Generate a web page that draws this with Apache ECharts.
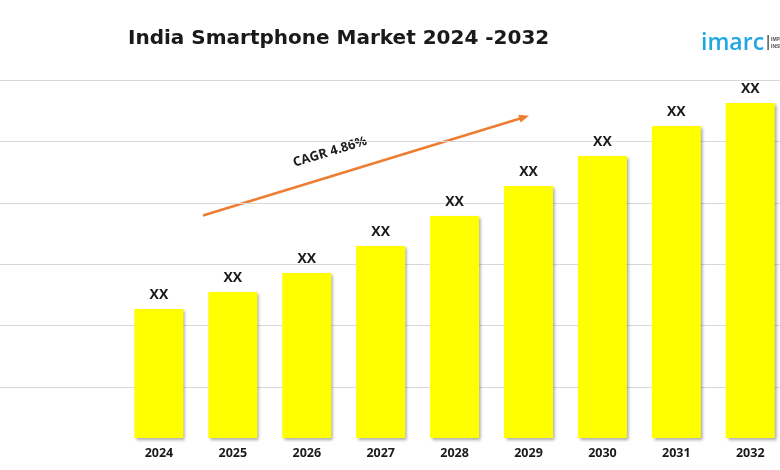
<!DOCTYPE html>
<html>
<head>
<meta charset="utf-8">
<script src="https://cdn.jsdelivr.net/npm/echarts@6/dist/echarts.min.js"></script>
<style>html,body{margin:0;padding:0;background:#fff}#c{width:780px;height:470px}</style>
</head>
<body>
<div id="c"></div>
<script>
var years = ['2024','2025','2026','2027','2028','2029','2030','2031','2032'];
var values = [12.9, 14.6, 16.5, 19.2, 22.2, 25.2, 28.2, 31.2, 33.5];
var barLabels = ['XX','XX','XX','XX','XX','XX','XX','XX','XX'];
var titleText = 'India Smartphone Market 2024 -2032';
var cagrText = 'CAGR 4.86%';

var chart = echarts.init(document.getElementById('c'), null, {renderer:'canvas'});
var ang = Math.atan2(215.5 - 116, 528 - 203);
var option = {
  backgroundColor: '#ffffff',
  animation: false,
  title: {
    text: titleText, left: 123, top: 24,
    textStyle: {fontFamily: 'DejaVu Sans', fontWeight: 'bold', fontSize: 20, color: '#1a1a1a'}
  },
  grid: [
    {left: 0, right: 0, top: 80, bottom: 21.4},
    {left: 122, width: 665.2, top: 80, bottom: 32, outerBoundsMode: 'none', containLabel: false}
  ],
  xAxis: [
    {gridIndex: 0, type: 'category', data: years, show: false},
    {gridIndex: 1, type: 'category', data: years,
     axisLine: {show: false}, axisTick: {show: false},
     axisLabel: {margin: 9, fontFamily: 'Open Sans', fontWeight: 'bold', fontSize: 12.5, color: '#1a1a1a'}}
  ],
  yAxis: [
    {gridIndex: 0, type: 'value', min: 0, max: 6, interval: 1,
     axisLabel: {show: false}, axisLine: {show: false}, axisTick: {show: false},
     splitLine: {show: true, showMinLine: false, lineStyle: {color: '#d9d9d9', width: 1}}},
    {gridIndex: 1, type: 'value', min: 0, max: 35.8, show: false, splitLine: {show: false}}
  ],
  series: [{
    type: 'bar', xAxisIndex: 1, yAxisIndex: 1,
    data: values, barWidth: 49,
    itemStyle: {color: '#ffff00', shadowColor: 'rgba(0,0,0,0.35)', shadowBlur: 3, shadowOffsetX: 2, shadowOffsetY: 2},
    label: {show: true, position: 'top', distance: 7,
      formatter: function(p){ return barLabels[p.dataIndex]; },
      fontFamily: 'Open Sans', fontWeight: 'bold', fontSize: 14, color: '#1a1a1a'}
  }],
  graphic: [
    {type: 'line', shape: {x1: 203, y1: 215.5, x2: 521, y2: 118.2},
     style: {stroke: '#ed7d31', lineWidth: 2.5}},
    {type: 'polygon', shape: {points: [
       [529, 115.7],
       [529 - 10*Math.cos(ang) + 4*Math.sin(ang), 115.7 + 10*Math.sin(ang) + 4*Math.cos(ang)],
       [529 - 10*Math.cos(ang) - 4*Math.sin(ang), 115.7 + 10*Math.sin(ang) - 4*Math.cos(ang)]
     ]}, style: {fill: '#ed7d31'}},
    {type: 'text', x: 330, y: 152, rotation: ang,
     style: {text: cagrText, x: 0, y: 0, align: 'center', verticalAlign: 'middle',
       font: 'bold 13px "Open Sans"', fill: '#1a1a1a'}},
    {type: 'text', x: 701, y: 55, style: {text: 'imarc', font: '600 23px "Open Sans"', fill: '#1fa6e3', verticalAlign: 'bottom'}},
    {type: 'rect', shape: {x: 767.5, y: 35, width: 1.2, height: 15}, style: {fill: '#333'}},
    {type: 'text', x: 771, y: 37, style: {text: 'IMPACTFUL', font: 'bold 5px "Liberation Sans"', fill: '#555'}},
    {type: 'text', x: 771, y: 44, style: {text: 'INSIGHTS', font: 'bold 5px "Liberation Sans"', fill: '#555'}}
  ]
};
chart.setOption(option);
</script>
</body>
</html>
